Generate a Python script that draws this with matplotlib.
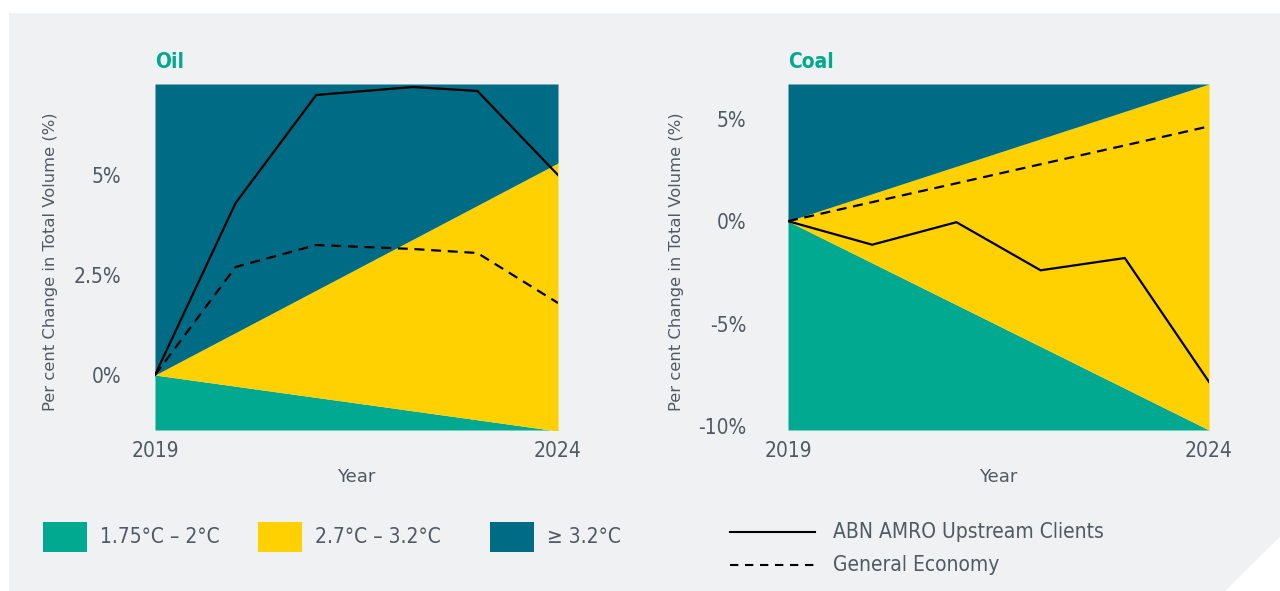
import matplotlib
matplotlib.use('Agg')
import matplotlib.pyplot as plt
from matplotlib.patches import Polygon, Rectangle
from matplotlib.lines import Line2D

# Data
years = [2019, 2020, 2021, 2022, 2023, 2024]
oil_years = [2019, 2020, 2021, 2022.2, 2023, 2024]
oil_clients = [0, 4.3, 7.0, 7.2, 7.1, 5.0]
oil_economy = [0, 2.7, 3.25, 3.15, 3.05, 1.8]
coal_clients = [0, -1.15, -0.05, -2.4, -1.8, -7.85]
coal_economy = [0, 0.93, 1.85, 2.78, 3.7, 4.63]

# scenario band edges (start / end of period)
band_years = [2019, 2024]
oil_low_edge = [0, -1.4]
oil_mid_edge = [0, 5.3]
coal_low_edge = [0, -10.2]
coal_mid_edge = [0, 6.7]

oil_ticks = [0, 2.5, 5]
oil_tick_labels = ['0%', '2.5%', '5%']
coal_ticks = [-10, -5, 0, 5]
coal_tick_labels = ['-10%', '-5%', '0%', '5%']

band_labels = ['1.75°C – 2°C', '2.7°C – 3.2°C', '≥ 3.2°C']
line_labels = ['ABN AMRO Upstream Clients', 'General Economy']

# Styles
TEAL = '#00a98f'
YELLOW = '#ffd100'
BLUE = '#006b85'
GREY_TEXT = '#505a64'
PANEL = '#f0f1f3'
FONT = dict(family='DejaVu Sans', stretch='condensed')
FONT_REG = dict(family='DejaVu Sans')

W, H = 1280, 591
fig = plt.figure(figsize=(W / 100, H / 100), dpi=100, facecolor='white')


def fx(x):
    return x / W


def fy(y):
    return 1 - y / H


# grey panel with cut corner
panel = Polygon([(fx(9), fy(13)), (fx(1280), fy(13)), (fx(1280), fy(537)),
                 (fx(1225), fy(591)), (fx(9), fy(591))],
                closed=True, transform=fig.transFigure, facecolor=PANEL,
                edgecolor='none', zorder=-5)
fig.patches.append(panel)


def make_chart(left, right, ylim, low_edge, mid_edge, xs, clients, economy,
               ticks, tick_labels, title, ylab_x, tick_pad):
    ax = fig.add_axes([fx(left), fy(430), fx(right - left), (430 - 84) / H])
    ax.set_facecolor('none')
    ax.fill_between(band_years, [ylim[0]] * 2, low_edge, color=TEAL, lw=0)
    ax.fill_between(band_years, low_edge, mid_edge, color=YELLOW, lw=0)
    ax.fill_between(band_years, mid_edge, [ylim[1]] * 2, color=BLUE, lw=0)
    ax.plot(xs, clients, color='black', lw=1.6, solid_joinstyle='miter')
    ax.plot(xs, economy, color='black', lw=1.6, dashes=(4.5, 3))
    ax.set_xlim(2019, 2024)
    ax.set_ylim(*ylim)
    for s in ax.spines.values():
        s.set_visible(False)
    ax.set_xticks([2019, 2024])
    ax.set_xticklabels(['2019', '2024'], fontsize=15, color=GREY_TEXT, **FONT)
    ax.set_yticks(ticks)
    ax.set_yticklabels(tick_labels, fontsize=15, color=GREY_TEXT, **FONT)
    ax.tick_params(axis='x', length=0, pad=8)
    ax.tick_params(axis='y', length=0, pad=tick_pad)
    fig.text(fx((left + right) / 2), fy(477), 'Year', ha='center', va='center',
             fontsize=13, color=GREY_TEXT, **FONT_REG)
    fig.text(fx(ylab_x), fy(262), 'Per cent Change in Total Volume (%)',
             rotation=90, ha='center', va='center', fontsize=11.8,
             color=GREY_TEXT, **FONT_REG)
    fig.text(fx(left), fy(62), title, ha='left', va='center',
             fontsize=15, fontweight='bold', color=TEAL, **FONT)
    return ax


oil_ax = make_chart(155, 558, (-1.375, 7.275), oil_low_edge, oil_mid_edge,
                    oil_years, oil_clients, oil_economy, oil_ticks,
                    oil_tick_labels, 'Oil', 51, 24)
coal_ax = make_chart(788, 1209, (-10.2, 6.7), coal_low_edge, coal_mid_edge,
                     years, coal_clients, coal_economy, coal_ticks,
                     coal_tick_labels, 'Coal', 677, 30)

# legend: temperature bands
for x0, col, lab in zip([43, 258, 490], [TEAL, YELLOW, BLUE], band_labels):
    fig.patches.append(Rectangle((fx(x0), fy(552)), fx(44), 30 / H,
                                 transform=fig.transFigure, facecolor=col,
                                 edgecolor='none'))
    fig.text(fx(x0 + 57), fy(537), lab, ha='left', va='center',
             fontsize=15, color=GREY_TEXT, **FONT)

# legend: lines
for yy, style, lab in zip([532, 565], ['-', '--'], line_labels):
    ln = Line2D([fx(730), fx(815)], [fy(yy), fy(yy)], transform=fig.transFigure,
                color='black', lw=1.5)
    if style == '--':
        ln.set_dashes((4, 3.2))
    fig.lines.append(ln)
    fig.text(fx(833), fy(yy), lab, ha='left', va='center',
             fontsize=15, color=GREY_TEXT, **FONT)

fig.savefig('out.png', dpi=100, facecolor='white')
